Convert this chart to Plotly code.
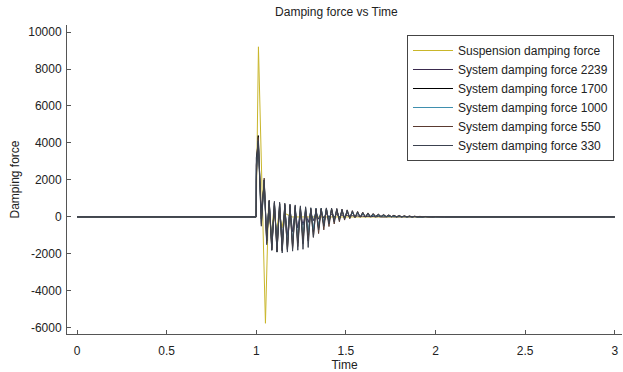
import plotly.graph_objects as go

# ---------------- data ----------------
t_susp = [0, 0.999, 1.000, 1.012, 1.051, 1.068, 1.083, 1.098, 1.113, 1.128, 1.143, 1.158, 1.2, 3.0]
f_susp = [0, 0, 500, 9200, -5750, 600, -1000, 400, -800, 300, -600, 200, 0, 0]

t_sys = [0, 0.999, 1.000, 1.011, 1.028, 1.044, 1.058,
         1.072, 1.0865, 1.101, 1.1155, 1.130, 1.1445, 1.159, 1.1735, 1.188, 1.2025,
         1.217, 1.2315, 1.246, 1.2605, 1.275, 1.2895, 1.304, 1.3185, 1.333, 1.3475,
         1.362, 1.3765, 1.391, 1.4055, 1.420, 1.4345, 1.449, 1.4635, 1.478, 1.4925,
         1.507, 1.5215, 1.536, 1.5505, 1.565, 1.5795, 1.594, 1.6085, 1.623, 1.6375,
         1.652, 1.6665, 1.681, 1.6955, 1.710, 1.7245, 1.739, 1.7535, 1.768, 1.7825,
         1.797, 1.8115, 1.826, 1.8405, 1.855, 1.8695, 1.884, 1.8985, 1.913, 1.9275,
         1.942, 1.9565, 1.971, 1.9855, 2.000, 2.05, 3.0]

f_2239 = [0, 0, 3200, 4000, 300, 1800, -1000,
          700, -1500, 600, -1400, 500, -1200, 450, -1000, 400, -800,
          350, -600, 320, -450, 300, -300, 280, -200, 250, -120,
          220, -60, 190, -20, 160, 0, 130, 10, 110, 15,
          90, 15, 75, 10, 60, 10, 50, 5, 40, 5,
          30, 0, 25, 0, 20, 0, 15, 0, 10, 0,
          8, 0, 6, 0, 5, 0, 4, 0, 3, 0,
          2, 0, 1, 0, 0, 0, 0]

f_1700 = [0, 0, 2800, 4400, -100, 2000, -1300,
          850, -1800, 750, -1900, 700, -1850, 650, -1750, 600, -1600,
          500, -1400, 450, -1200, 400, -1000, 400, -800, 420, -600,
          450, -450, 450, -300, 420, -200, 380, -120, 330, -60,
          280, -20, 230, 0, 190, 10, 160, 20, 130, 20,
          110, 20, 90, 20, 75, 15, 60, 10, 50, 5,
          40, 0, 35, 0, 30, 0, 25, 0, 20, 0,
          15, 0, 10, 0, 5, 0, 0]

f_1000 = [0, 0, 2500, 4200, -300, 1900, -1200,
          800, -1500, 750, -1600, 700, -1600, 650, -1500, 600, -1400,
          550, -1250, 500, -1100, 480, -900, 460, -700, 450, -550,
          450, -400, 430, -280, 400, -180, 360, -100, 320, -50,
          280, -10, 240, 10, 200, 20, 170, 25, 140, 25,
          115, 20, 95, 20, 80, 15, 65, 10, 55, 5,
          45, 5, 35, 0, 30, 0, 25, 0, 20, 0,
          15, 0, 10, 0, 5, 0, 0]

f_550 = [0, 0, 2200, 4300, -400, 2100, -1400,
         900, -1700, 800, -1800, 750, -1800, 700, -1800, 650, -1700,
         600, -1600, 550, -1450, 500, -1300, 450, -1100, 430, -900,
         430, -700, 440, -520, 450, -380, 440, -260, 420, -170,
         380, -100, 340, -50, 300, -20, 260, 0, 220, 10,
         190, 20, 160, 20, 135, 20, 115, 20, 95, 15,
         80, 10, 65, 10, 55, 5, 45, 0, 35, 0,
         28, 0, 20, 0, 15, 0, 0]

f_330 = [0, 0, 2000, 4100, -500, 2000, -1500,
         900, -1800, 850, -1900, 800, -1950, 750, -1900, 700, -1850,
         650, -1800, 600, -1750, 550, -1650, 500, -1100, 480, -700,
         480, -500, 490, -380, 480, -280, 460, -190, 420, -120,
         380, -60, 330, -20, 280, 0, 240, 10, 200, 20,
         170, 25, 140, 25, 120, 20, 100, 15, 80, 10,
         65, 10, 50, 5, 40, 0, 30, 0, 20, 0,
         15, 0, 10, 0, 5, 0, 0]

series = [
    ("Suspension damping force", t_susp, f_susp, "#c9b62a"),
    ("System damping force 2239", t_sys, f_2239, "#3a2a4e"),
    ("System damping force 1700", t_sys, f_1700, "#000000"),
    ("System damping force 1000", t_sys, f_1000, "#3f8fae"),
    ("System damping force 550", t_sys, f_550, "#5a3a30"),
    ("System damping force 330", t_sys, f_330, "#3c4250"),
]

x_ticks = [0, 0.5, 1, 1.5, 2, 2.5, 3]
x_tick_labels = ["0", "0.5", "1", "1.5", "2", "2.5", "3"]
y_ticks = [-6000, -4000, -2000, 0, 2000, 4000, 6000, 8000, 10000]
y_tick_labels = [str(v) for v in y_ticks]

# ---------------- figure ----------------
fig = go.Figure()
for name, tx, fy, col in series:
    fig.add_trace(go.Scatter(x=tx, y=fy, mode="lines", name=name,
                             line=dict(color=col, width=1)))

FONT = "Liberation Sans, Arial, sans-serif"
fig.update_layout(
    width=623, height=372,
    margin=dict(l=67, r=1, t=25, b=38, autoexpand=False),
    paper_bgcolor="white", plot_bgcolor="white",
    font=dict(family=FONT, size=12, color="#222222"),
    title=dict(text="Damping force vs Time", x=0.54, xanchor="center",
               y=0.968, yanchor="middle", font=dict(size=12, color="#222222")),
    showlegend=True,
    legend=dict(x=0.6126, y=0.9676, xanchor="left", yanchor="top",
                bgcolor="white", bordercolor="#444444", borderwidth=1,
                font=dict(size=12, color="#222222"), itemwidth=40,
                entrywidth=167, entrywidthmode="pixels",
                tracegroupgap=0),
    xaxis=dict(range=[-0.056, 3.04], tickvals=x_ticks, ticktext=x_tick_labels,
               ticks="inside", ticklen=4, tickcolor="#555555",
               ticklabelstandoff=6,
               showline=True, linecolor="#555555", linewidth=1,
               showgrid=False, zeroline=False, automargin=False,
               title=dict(text="Time", standoff=0, font=dict(size=12))),
    yaxis=dict(range=[-6330, 10380], tickvals=y_ticks, ticktext=y_tick_labels,
               ticks="inside", ticklen=4, tickcolor="#555555",
               ticklabelstandoff=2,
               showline=True, linecolor="#555555", linewidth=1,
               showgrid=False, zeroline=False, automargin=False,
               title=dict(text="Damping force", standoff=6, font=dict(size=12))),
)

fig.write_html("out.html", config={"displayModeBar": False},
               post_script="document.body.style.margin='0';document.body.style.overflow='hidden';")
